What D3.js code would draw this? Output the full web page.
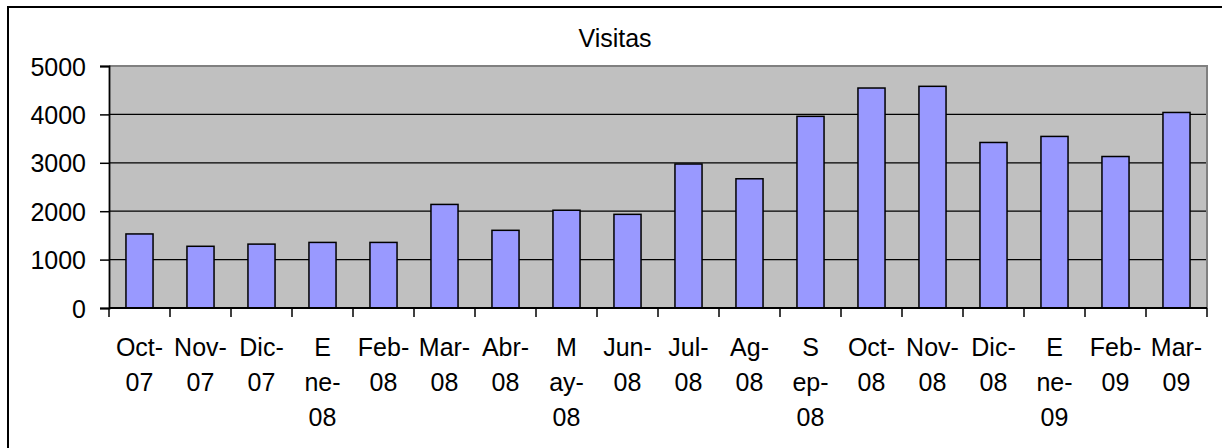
<!DOCTYPE html>
<html>
<head>
<meta charset="utf-8">
<script src="https://cdn.jsdelivr.net/npm/d3@7"></script>
<style>
  body { margin: 0; background: #fff; }
  svg text { font-family: "Liberation Sans", Arial, sans-serif; fill: #000; }
</style>
</head>
<body>
<div id="chart"></div>
<script>
// data
var months = ["Oct-07", "Nov-07", "Dic-07", "Ene-08", "Feb-08", "Mar-08", "Abr-08", "May-08", "Jun-08",
              "Jul-08", "Ag-08", "Sep-08", "Oct-08", "Nov-08", "Dic-08", "Ene-09", "Feb-09", "Mar-09"];
var visitas = [1530, 1275, 1320, 1355, 1355, 2140, 1605, 2020, 1935,
               2975, 2670, 3960, 4545, 4580, 3420, 3545, 3130, 4040];
// the labels wrap the way the original did
var tickLines = [["Oct-", "07"], ["Nov-", "07"], ["Dic-", "07"], ["E", "ne-", "08"], ["Feb-", "08"],
                 ["Mar-", "08"], ["Abr-", "08"], ["M", "ay-", "08"], ["Jun-", "08"], ["Jul-", "08"],
                 ["Ag-", "08"], ["S", "ep-", "08"], ["Oct-", "08"], ["Nov-", "08"], ["Dic-", "08"],
                 ["E", "ne-", "09"], ["Feb-", "09"], ["Mar-", "09"]];
var yTicks = [0, 1000, 2000, 3000, 4000, 5000];
var title = "Visitas";

var W = 1222, H = 448;
var margin = {top: 66, right: 15, bottom: 140, left: 109},
    width = 1207 - margin.left,
    height = 308 - margin.top;

var svg = d3.select("#chart").append("svg")
  .attr("width", W)
  .attr("height", H);

// outer chart frame (runs past the right and bottom edges)
svg.append("rect")
  .attr("x", 8).attr("y", 7)
  .attr("width", 1240).attr("height", 480)
  .attr("fill", "#fff")
  .attr("stroke", "#000")
  .attr("stroke-width", 2);

svg.append("text")
  .attr("x", 615).attr("y", 47)
  .attr("text-anchor", "middle")
  .style("font-size", "25px")
  .text(title);

var g = svg.append("g")
  .attr("transform", "translate(" + margin.left + "," + margin.top + ")");

var x = d3.scaleBand()
  .domain(months)
  .range([0, width])
  .paddingInner(0.556)
  .paddingOuter(0.278);

var y = d3.scaleLinear()
  .domain([0, 5000])
  .range([height, 0]);

// plot area
g.append("rect")
  .attr("width", width).attr("height", height)
  .attr("fill", "#c0c0c0");

// gridlines
g.append("g").selectAll("line")
  .data(yTicks.slice(1, -1))
  .enter().append("line")
  .attr("x1", 0).attr("x2", width)
  .attr("y1", function(d) { return y(d); })
  .attr("y2", function(d) { return y(d); })
  .attr("stroke", "#000")
  .attr("stroke-width", 1.3);

// gray top and right border of plot area
g.append("path")
  .attr("d", "M0," + y(5000) + "H" + width + "V" + y(0))
  .attr("fill", "none")
  .attr("stroke", "#808080")
  .attr("stroke-width", 2);

// bars
g.append("g").selectAll("rect")
  .data(visitas)
  .enter().append("rect")
  .attr("x", function(d, i) { return x(months[i]); })
  .attr("y", function(d) { return y(d); })
  .attr("width", x.bandwidth())
  .attr("height", function(d) { return y(0) - y(d); })
  .attr("fill", "#9999ff")
  .attr("stroke", "#000")
  .attr("stroke-width", 1.5);

// Y axis
var yAxis = g.append("g")
  .call(d3.axisLeft(y).tickValues(yTicks).tickFormat(d3.format("d")).tickSize(9).tickPadding(14));
yAxis.selectAll("text").style("font-size", "25px").attr("dy", "0.36em");
yAxis.selectAll("line").attr("stroke", "#000").attr("stroke-width", 1.5);
yAxis.select(".domain").attr("stroke", "#000").attr("stroke-width", 1.8);

// X axis: ticks sit between the categories
var xAxis = g.append("g")
  .attr("transform", "translate(0," + height + ")");
xAxis.append("line")
  .attr("x1", 0).attr("x2", width)
  .attr("stroke", "#000").attr("stroke-width", 1.8);
xAxis.selectAll(".tick")
  .data(d3.range(months.length + 1))
  .enter().append("line")
  .attr("x1", function(i) { return i * x.step(); })
  .attr("x2", function(i) { return i * x.step(); })
  .attr("y1", 0).attr("y2", 9)
  .attr("stroke", "#000").attr("stroke-width", 1.5);

var labels = xAxis.selectAll(".lbl")
  .data(months)
  .enter().append("text")
  .attr("text-anchor", "middle")
  .attr("transform", function(d) { return "translate(" + (x(d) + x.bandwidth() / 2) + ",0)"; })
  .style("font-size", "25px");
labels.selectAll("tspan")
  .data(function(d, i) { return tickLines[i]; })
  .enter().append("tspan")
  .attr("x", 0)
  .attr("y", function(d, j) { return 48 + j * 35; })
  .text(function(d) { return d; });
</script>
</body>
</html>
